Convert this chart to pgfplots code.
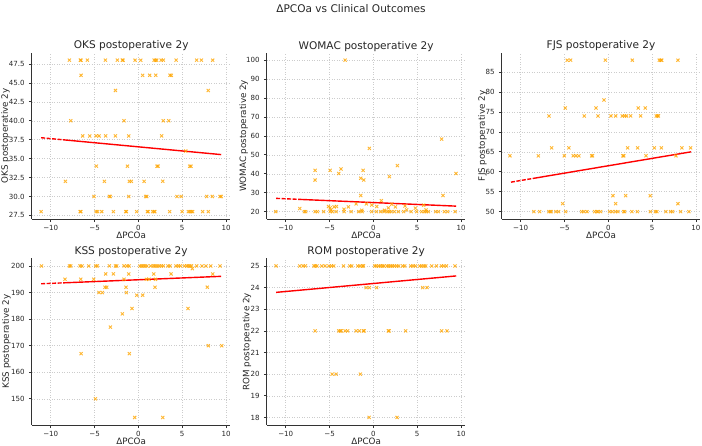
\documentclass[border=0pt]{standalone}
\usepackage{fontspec}
\setmainfont{DejaVu Sans}
\usepackage{pgfplots}
\pgfplotsset{compat=1.18}

\definecolor{mkorange}{RGB}{255,165,0}

\pgfplotsset{
  outcome/.style={
    scale only axis, width=198.5bp, height=166.6bp,
    xmin=-12.15, xmax=10.5,
    xtick={-10,-5,0,5,10}, xticklabels={−10,−5,0,5,10},
    axis x line*=bottom, axis y line*=left,
    axis line style={black!80, line width=0.9bp, -},
    tick align=outside, major tick length=3bp,
    tick style={black!80, line width=0.7bp},
    grid=major, major grid style={gray!40, line width=0.5bp, dotted},
    /pgf/number format/assume math mode=true,
    tick label style={font=\fontsize{7.1}{8}\selectfont, text=black!85},
    xticklabel style={anchor=north, inner sep=0pt, yshift=-3bp},
    yticklabel style={anchor=east, inner sep=0pt, xshift=-4bp},
    every axis title/.style={at={(0.5,1)}, anchor=base, yshift=3.6bp, inner sep=0pt,
      font=\fontsize{10.6}{12}\selectfont, text=black!85},
    xlabel={ΔPCOa},
    every axis x label/.style={at={(0.5,0)}, anchor=base, yshift=-19bp, inner sep=0pt,
      font=\fontsize{8.8}{10}\selectfont, text=black!85},
  },
  % #1: distance of the label baseline left of the y axis, as a fraction of the axis width
  ylab/.style={every axis y label/.style={at={(axis description cs:-#1,0.5)},
      rotate=90, anchor=base, inner sep=0pt, font=\fontsize{8.8}{10}\selectfont, text=black!85}},
  pts/.style={only marks, mark=x, mark size=2.2bp, color=mkorange, opacity=0.8, mark options={line width=0.9bp}},
  fit/.style={red, line width=1.4bp, no marks, dash pattern=on 4bp off 1.5bp on 4bp off 1.5bp on 4bp off 1.5bp on 4bp off 1.5bp on 400bp off 0bp},
}

\begin{document}
\begin{tikzpicture}
\useasboundingbox (0,0) rectangle (702bp,446bp);

\node[anchor=base, font=\fontsize{10.6}{12}\selectfont, text=black!85] at (351bp,433.6bp) {ΔPCOa vs Clinical Outcomes};

% OKS
\begin{axis}[outcome, ylab=0.1214, at={(31.9bp,226.8bp)}, anchor=south west,
  title={OKS postoperative 2y}, ylabel={OKS postoperative 2y},
  ymin=27, ymax=49, ytick={27.5,30,32.5,35,37.5,40,42.5,45,47.5},
  yticklabel style={/pgf/number format/.cd, fixed, fixed zerofill, precision=1}]
\addplot[pts] coordinates {
 (-7.87,48) (-6.62,48) (-6.55,48) (-5.82,48) (-3.76,48) (-2.40,48) (-1.83,48) (-1.75,48)
 (-0.38,48) (0.27,48) (1.79,48) (1.95,48) (2.09,48) (2.59,48) (2.85,48) (4.30,48) (6.65,48) (7.19,48) (8.48,48)
 (-6.54,46) (0.49,46) (1.29,46) (1.98,46) (3.61,46) (3.76,46)
 (-2.62,44) (7.98,44)
 (-7.72,40) (-1.63,40) (2.85,40) (3.46,40)
 (-6.35,38) (-5.55,38) (-4.83,38) (-4.49,38) (-3.73,38) (-2.62,38) (-1.10,38) (2.66,38)
 (5.40,36)
 (-4.79,34) (-1.25,34) (2.13,34) (2.25,34) (5.86,34) (6.00,34)
 (-8.33,32) (-3.88,32) (-1.03,32) (-0.80,32) (0.65,32) (2.78,32)
 (-5.06,30) (-3.31,30) (-3.20,30) (-1.10,30) (0.84,30) (0.95,30) (4.41,30) (4.90,30) (7.79,30) (8.44,30) (9.32,30) (9.45,30)
 (-11.10,28) (-6.65,28) (-6.55,28) (-4.83,28) (-4.64,28) (-4.18,28) (-2.85,28) (-1.44,28) (-1.36,28)
 (-0.19,28) (1.03,28) (1.10,28) (1.63,28) (1.79,28) (1.87,28) (3.57,28) (4.98,28) (5.70,28) (5.89,28)
 (6.08,28) (6.20,28) (7.34,28) (7.98,28)
};
\addplot[fit] coordinates {(-11.1,37.76) (9.45,35.53)};
\end{axis}

% WOMAC
\begin{axis}[outcome, ylab=0.1048, at={(266.9bp,226.8bp)}, anchor=south west,
  title={WOMAC postoperative 2y}, ylabel={WOMAC postoperative 2y},
  ymin=16, ymax=104, ytick={20,30,...,100}]
\addplot[pts] coordinates {
 (-3.23,100) (7.79,58.3) (-0.46,53.4) (2.74,44.3) (-6.65,41.8) (-6.65,36.7) (-4.94,41.8)
 (-3.69,42.5) (-3.95,40.1) (-1.18,41.8) (-1.10,36.7) (-1.44,37.6) (1.83,38.5) (9.43,40.1)
 (7.95,28.5) (-1.44,28.5) (0.91,25.8)
 (-11.14,20) (-7.87,20) (-7.72,20) (-6.65,20) (-6.39,20) (-5.67,20) (-4.94,20) (-4.68,20) (-4.26,20)
 (-3.35,20) (-2.55,20) (-1.67,20) (-1.29,20) (-0.19,20) (0.34,20) (0.84,20) (1.22,20) (1.60,20)
 (1.79,20) (2.02,20) (2.40,20) (2.85,20) (3.46,20) (4.30,20) (4.94,20) (5.51,20) (5.82,20) (6.01,20)
 (6.27,20) (7.11,20) (7.41,20) (8.10,20) (8.48,20) (9.32,20)
 (-8.40,21.6) (-4.94,22.0) (-5.13,22.7) (-4.49,22.5) (-4.22,22.7) (-4.83,20.9) (-2.85,22.5) (-3.35,21.3)
 (-1.98,24.1) (-0.80,24.1) (-0.19,23.5) (0.38,22.7) (1.71,22.0) (2.09,23.9) (2.51,22.5) (3.61,23.0)
 (3.80,20.9) (4.79,21.8) (5.74,23.4) (6.01,20.9) (-1.33,20.7) (1.26,20.7)
};
\addplot[fit] coordinates {(-11.1,27.0) (9.45,22.9)};
\end{axis}

% FJS
\begin{axis}[outcome, ylab=0.0851, at={(501.8bp,226.8bp)}, anchor=south west,
  title={FJS postoperative 2y}, ylabel={FJS postoperative 2y},
  ymin=48.1, ymax=89.9, ytick={50,55,...,85}]
\addplot[pts] coordinates {
 (-4.68,88) (-4.30,88) (-0.34,88) (2.74,88) (5.82,88) (6.01,88) (6.10,88) (7.95,88)
 (-0.49,78)
 (-4.90,76) (-1.41,76) (3.42,76) (4.22,76)
 (-6.77,74) (-2.74,74) (-1.18,74) (0.30,74) (0.84,74) (1.60,74) (1.86,74) (2.09,74) (2.55,74) (3.69,74) (5.48,74) (5.63,74) (5.72,74)
 (-6.46,66) (-4.49,66) (2.21,66) (3.35,66) (5.25,66) (6.05,66) (8.40,66) (9.39,66)
 (-11.22,64) (-7.98,64) (-5.02,64) (-4.00,64) (-3.69,64) (-3.35,64) (-1.90,64) (-1.80,64) (1.67,64) (1.77,64) (4.30,64) (7.72,64)
 (0.53,54) (1.98,54) (4.79,54)
 (-5.21,52) (0.84,52) (7.95,52)
 (-8.48,50) (-7.83,50) (-6.77,50) (-6.62,50) (-6.52,50) (-5.97,50) (-5.67,50) (-4.87,50) (-3.04,50) (-2.78,50)
 (-2.43,50) (-1.56,50) (-1.29,50) (-1.19,50) (-0.87,50) (0.15,50) (0.46,50) (0.84,50) (1.10,50) (1.75,50)
 (1.86,50) (2.70,50) (3.31,50) (4.79,50) (5.36,50) (5.55,50) (6.58,50) (7.11,50) (7.34,50) (8.25,50) (9.20,50)
};
\addplot[fit] coordinates {(-11.1,57.4) (9.45,65.0)};
\end{axis}

% KSS
\begin{axis}[outcome, ylab=0.1164, at={(31.9bp,21bp)}, anchor=south west,
  title={KSS postoperative 2y}, ylabel={KSS postoperative 2y},
  ymin=140.15, ymax=202.85, ytick={150,160,...,200}]
\addplot[pts] coordinates {
 (-11.06,200) (-7.87,200) (-7.72,200) (-6.65,200) (-6.43,200) (-5.67,200) (-4.87,200) (-4.68,200) (-3.31,200)
 (-2.62,200) (-2.47,200) (-1.63,200) (-1.29,200) (-1.06,200) (0.19,200) (0.38,200) (0.57,200) (0.76,200)
 (0.99,200) (1.41,200) (1.71,200) (1.90,200) (2.13,200) (2.36,200) (2.62,200) (2.85,200) (3.38,200)
 (3.61,200) (4.30,200) (4.56,200) (4.79,200) (5.25,200) (5.51,200) (5.70,200) (5.86,200) (6.05,200)
 (6.65,200) (7.26,200) (7.72,200) (8.25,200) (9.32,200)
 (6.16,199)
 (-3.73,197) (-2.85,197) (-1.10,197) (1.75,197) (3.73,197) (8.48,197)
 (-8.37,195) (-6.58,195) (-5.10,195) (-1.63,195) (0.91,195) (1.22,195) (1.94,195)
 (-3.80,192) (-3.61,192) (-1.41,192) (1.90,192) (7.87,192)
 (-4.49,190) (-4.11,190) (-1.37,190)
 (-0.19,189) (0.49,189)
 (-0.72,184) (5.67,184)
 (-1.83,182)
 (-3.19,177)
 (7.98,170) (9.51,170)
 (-6.54,167) (-1.03,167)
 (-4.90,150)
 (-0.42,143) (2.78,143)
};
\addplot[fit] coordinates {(-11.1,193.3) (9.45,196.1)};
\end{axis}

% ROM
\begin{axis}[outcome, ylab=0.0877, at={(266.9bp,21bp)}, anchor=south west,
  title={ROM postoperative 2y}, ylabel={ROM postoperative 2y},
  ymin=17.65, ymax=25.35, ytick={18,19,...,25}]
\addplot[pts] coordinates {
 (-11.10,25) (-8.40,25) (-8.02,25) (-7.76,25) (-6.77,25) (-6.62,25) (-6.43,25) (-5.89,25) (-5.51,25)
 (-5.06,25) (-4.79,25) (-4.52,25) (-3.42,25) (-2.70,25) (-2.47,25) (-1.79,25) (-1.52,25) (-1.25,25)
 (-1.14,25) (0.15,25) (0.34,25) (0.61,25) (0.80,25) (1.03,25) (1.22,25) (1.56,25) (1.75,25) (1.98,25)
 (2.17,25) (2.40,25) (2.66,25) (2.89,25) (3.35,25) (3.57,25) (4.26,25) (4.52,25) (4.79,25) (5.29,25)
 (5.51,25) (5.78,25) (5.97,25) (6.65,25) (7.19,25) (7.76,25) (8.02,25) (8.33,25) (9.32,25)
 (-0.84,24) (-0.46,24) (0.38,24) (5.63,24) (6.12,24)
 (-6.65,22) (-3.95,22) (-3.76,22) (-3.68,22) (-3.23,22) (-2.93,22) (-1.98,22) (-1.60,22) (-1.14,22)
 (-1.06,22) (1.71,22) (1.79,22) (3.69,22) (7.79,22) (8.40,22)
 (-4.71,20) (-4.26,20) (-1.48,20)
 (-0.49,18) (2.70,18)
};
\addplot[red, line width=1.4bp, no marks] coordinates {(-11.1,23.78) (9.45,24.54)};
\end{axis}
\end{tikzpicture}
\end{document}
